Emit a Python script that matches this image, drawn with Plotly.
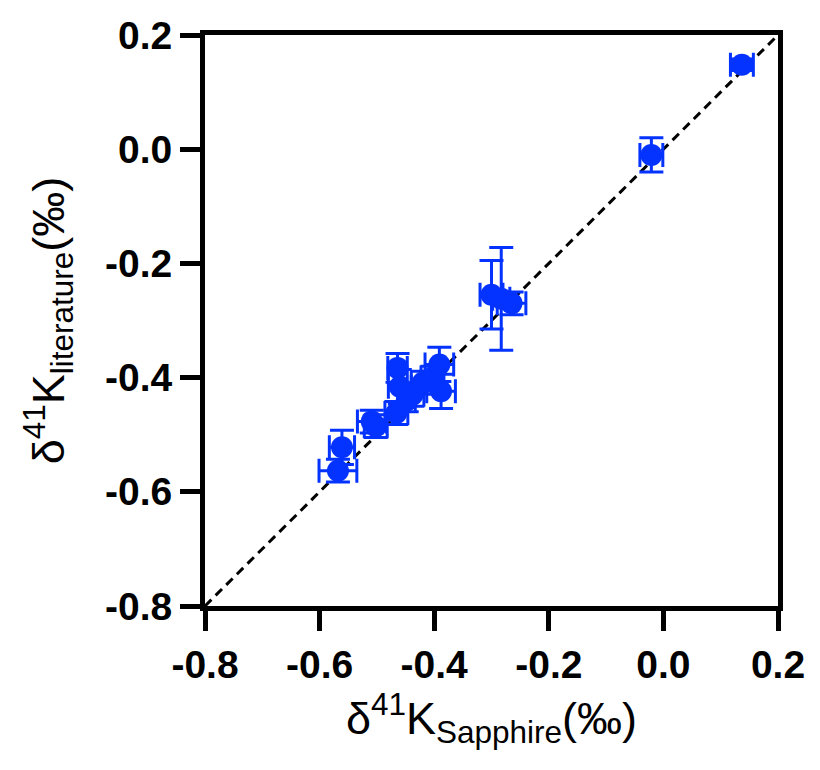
import plotly.graph_objects as go

# data
x_sapphire = [0.137, -0.021, -0.300, -0.283, -0.265, -0.568, -0.561, -0.509, -0.502,
              -0.466, -0.464, -0.460, -0.448, -0.438, -0.420, -0.403, -0.391, -0.388]
y_literature = [0.148, -0.010, -0.255, -0.262, -0.270, -0.563, -0.522, -0.477, -0.485,
                -0.462, -0.383, -0.416, -0.440, -0.430, -0.409, -0.400, -0.377, -0.424]
x_err = [0.02, 0.02, 0.02, 0.015, 0.025, 0.033, 0.022, 0.025, 0.02,
         0.02, 0.017, 0.02, 0.015, 0.02, 0.02, 0.02, 0.025, 0.025]
y_err = [0.01, 0.03, 0.06, 0.09, 0.02, 0.02, 0.03, 0.02, 0.02,
         0.02, 0.025, 0.03, 0.02, 0.02, 0.02, 0.02, 0.03, 0.03]
line_range = [-0.8, 0.2]
tick_vals = [-0.8, -0.6, -0.4, -0.2, 0.0, 0.2]
tick_text = ["-0.8", "-0.6", "-0.4", "-0.2", "0.0", "0.2"]

blue = "#0433FF"

fig = go.Figure()
fig.add_trace(go.Scatter(
    x=line_range, y=line_range, mode="lines",
    line=dict(color="black", width=3, dash="9px,6px"),
    showlegend=False, hoverinfo="skip"))
fig.add_trace(go.Scatter(
    x=x_sapphire, y=y_literature, mode="markers",
    marker=dict(color=blue, size=22, line=dict(width=0)),
    error_x=dict(type="data", array=x_err, color=blue, thickness=3, width=12),
    error_y=dict(type="data", array=y_err, color=blue, thickness=3, width=12),
    showlegend=False))

axis_common = dict(
    range=[-0.8, 0.2], tickvals=tick_vals, ticktext=tick_text,
    showgrid=False, zeroline=False, showline=True, linecolor="black",
    linewidth=5, mirror=True, ticks="outside", ticklen=20, tickwidth=5,
    tickcolor="black", automargin=False,
    tickfont=dict(family="Liberation Sans, Arial", size=39, color="black", weight="bold"),
)

fig.update_layout(
    width=820, height=770,
    margin=dict(l=197, r=50, t=27, b=172),
    plot_bgcolor="white", paper_bgcolor="white",
    xaxis=dict(**axis_common,
               title=dict(text="δ<sup>41</sup>K<sub>Sapphire</sub>(‰)",
                          font=dict(family="Liberation Sans, Arial", size=45, color="black"),
                          standoff=12)),
    yaxis=dict(**axis_common,
               title=dict(text="δ<sup>41</sup>K<sub>literature</sub>(‰)",
                          font=dict(family="Liberation Sans, Arial", size=45, color="black"),
                          standoff=28)),
)

fig.write_html("out.html")
